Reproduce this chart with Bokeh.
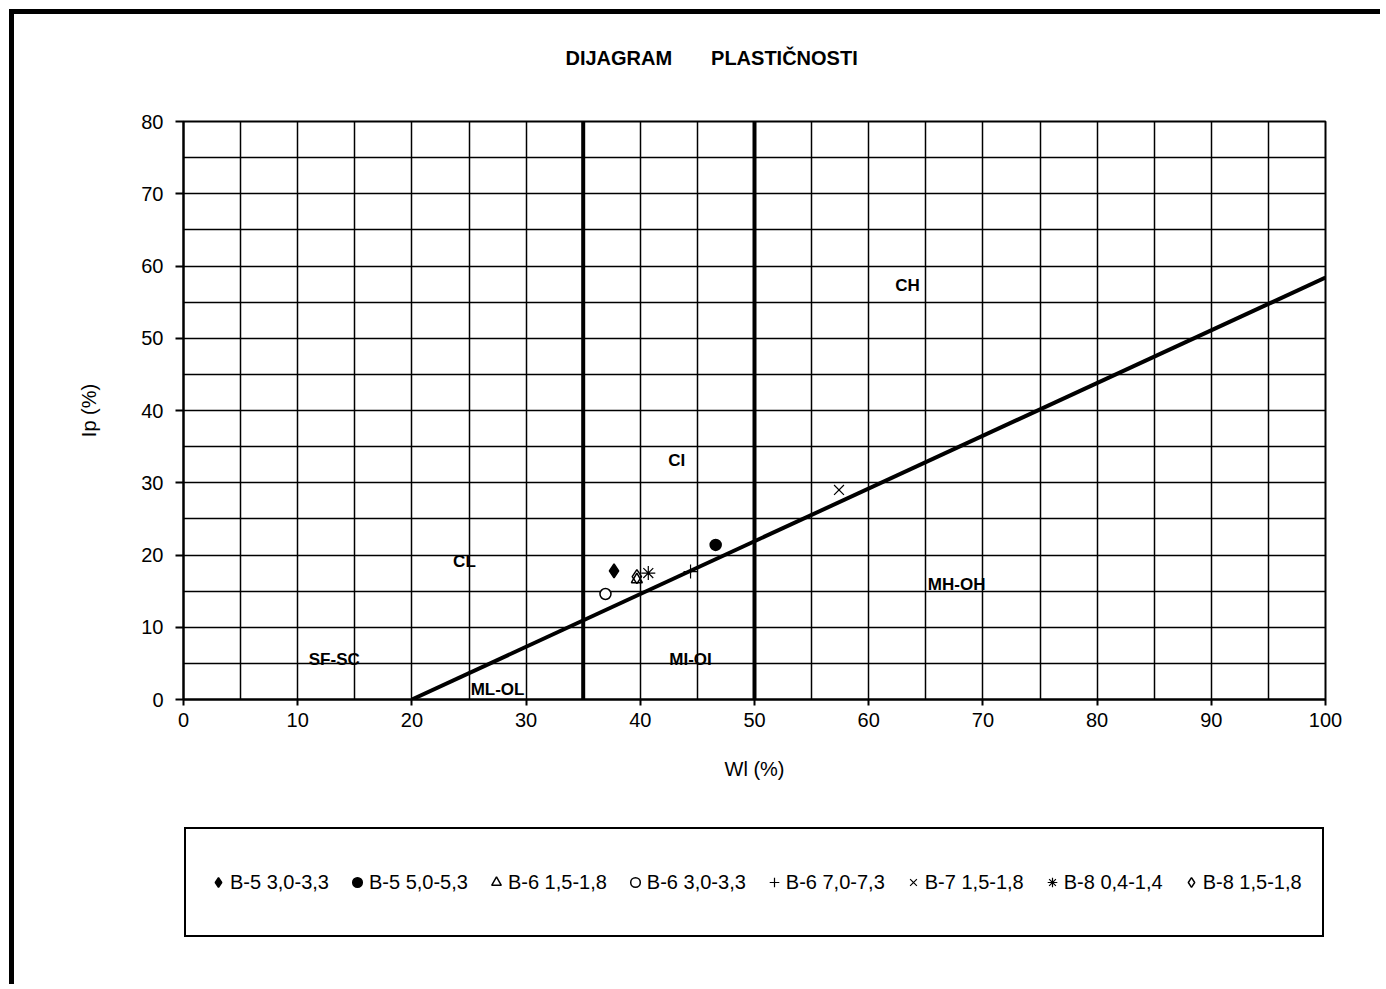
import numpy as np
from bokeh.plotting import figure
from bokeh.layouts import column
from bokeh.models import (SingleIntervalTicker, Legend, LegendItem, Range1d, Label)
from bokeh.core.properties import value
from bokeh.embed import file_html
from bokeh.resources import INLINE

FONT = "Liberation Sans"

# ---------------- data ----------------
sample_names = ["B-5 3,0-3,3", "B-5 5,0-5,3", "B-6 1,5-1,8", "B-6 3,0-3,3",
                "B-6 7,0-7,3", "B-7 1,5-1,8", "B-8 0,4-1,4", "B-8 1,5-1,8"]
wl_values = [37.7, 46.6, 39.7, 36.95, 44.4, 57.4, 40.7, 39.7]
ip_values = [17.8, 21.4, 16.6, 14.6, 17.7, 29.0, 17.5, 17.0]
marker_types = ["diamond", "circle", "triangle", "circle",
                "cross", "x", "asterisk", "diamond"]
marker_fill = ["black", "black", None, "white", None, None, None, None]
marker_size = [14, 11, 11, 11, 14, 14, 14, 14]
marker_lw = [1.5, 1.5, 1.5, 1.5, 1.2, 1.2, 1.2, 1.5]

a_line_wl = [20, 100]
a_line_ip = [0.0, 58.4]
boundary_wl = [35, 50]
boundary_ip_bottom = [0, 0]
boundary_ip_top = [80, 80]

zone_names = ["CH", "CI", "CL", "MH-OH", "SF-SC", "MI-OI", "ML-OL"]
zone_wl = [63.4, 43.2, 24.6, 67.7, 13.2, 44.4, 27.5]
zone_ip = [57.3, 33.1, 19.1, 15.9, 5.5, 5.5, 1.4]

title_text = "DIJAGRAM" + "\u00a0" * 7 + "PLASTIČNOSTI"
x_label = "Wl (%)"
y_label = "Ip (%)"

W = 1366
FRAME_W = 1142   # width of the aligned plot frames (pixels)

# ---------------- title strip ----------------
TH = 80
p0 = figure(width=W, height=TH, output_backend="svg", toolbar_location=None,
            x_range=Range1d(0, FRAME_W), y_range=Range1d(0, TH),
            x_axis_type=None, y_axis_type=None,
            min_border_left=169, min_border_right=55, min_border_top=0, min_border_bottom=0,
            background_fill_color="white", border_fill_color="white")
p0.outline_line_color = None
p0.grid.visible = False
p0.add_layout(Label(x=382, y=37, text=title_text, text_font=FONT,
                    text_font_size="20px", text_font_style="bold",
                    text_color="black", text_align="left", text_baseline="middle"))

# ---------------- main chart ----------------
p = figure(width=W, height=695, output_backend="svg", toolbar_location=None,
           x_range=Range1d(0, 100), y_range=Range1d(0, 80),
           min_border_left=169, min_border_right=55,
           min_border_top=27, min_border_bottom=90,
           background_fill_color="white", border_fill_color="white")
p.outline_line_color = "black"
p.outline_line_width = 2

p.xgrid.ticker = SingleIntervalTicker(interval=5, num_minor_ticks=0)
p.ygrid.ticker = SingleIntervalTicker(interval=5, num_minor_ticks=0)
for g in (p.xgrid, p.ygrid):
    g.grid_line_color = "black"
    g.grid_line_width = 1.5
    g.grid_line_alpha = 1.0

p.xaxis.ticker = SingleIntervalTicker(interval=10, num_minor_ticks=0)
p.yaxis.ticker = SingleIntervalTicker(interval=10, num_minor_ticks=0)
for ax in (p.xaxis, p.yaxis):
    ax.axis_line_color = "black"
    ax.axis_line_width = 2
    ax.major_tick_line_color = "black"
    ax.major_tick_line_width = 2
    ax.major_tick_in = 0
    ax.minor_tick_line_color = None
    ax.major_label_text_font = FONT
    ax.major_label_text_font_size = "20px"
    ax.major_label_text_color = "black"
    ax.axis_label_text_font = FONT
    ax.axis_label_text_font_size = "20px"
    ax.axis_label_text_font_style = "normal"
    ax.axis_label_text_color = "black"
p.xaxis.major_tick_out = 6
p.xaxis.major_label_standoff = 7
p.xaxis.axis_label = x_label
p.xaxis.axis_label_standoff = 28
p.yaxis.major_tick_out = 8
p.yaxis.major_label_standoff = 12
p.yaxis.axis_label = y_label
p.yaxis.axis_label_standoff = 38

p.segment(x0=boundary_wl, y0=boundary_ip_bottom, x1=boundary_wl, y1=boundary_ip_top,
          line_color="black", line_width=4)
p.line(x=a_line_wl, y=a_line_ip, line_color="black", line_width=4)

p.text(x=zone_wl, y=zone_ip, text=zone_names, text_font=value(FONT),
       text_font_size="17px", text_font_style="bold", text_color="black",
       text_align="center", text_baseline="middle")

for name, wl, ip, mk, fc, sz, lw in zip(sample_names, wl_values, ip_values,
                                        marker_types, marker_fill, marker_size, marker_lw):
    p.scatter(x=[wl], y=[ip], marker=mk, size=sz, line_color="black",
              line_width=lw, fill_color=fc)

# ---------------- legend strip ----------------
LH = 195
p2 = figure(width=W, height=LH, output_backend="svg", toolbar_location=None,
            x_range=Range1d(0, FRAME_W), y_range=Range1d(0, LH),
            x_axis_type=None, y_axis_type=None,
            min_border_left=169, min_border_right=55, min_border_top=0, min_border_bottom=0,
            background_fill_color="white", border_fill_color="white")
p2.outline_line_color = None
p2.grid.visible = False

items = []
for name, wl, ip, mk, fc, lw in zip(sample_names, wl_values, ip_values,
                                    marker_types, marker_fill, marker_lw):
    # legend proxies (hidden; the visible points are drawn in the main chart)
    r = p2.scatter(x=[wl], y=[ip], marker=mk, size=10, line_color="black",
                   line_width=lw, fill_color=fc, visible=False)
    items.append(LegendItem(label=name, renderers=[r]))

legend = Legend(items=items, orientation="horizontal", location=(1, 47),
                nrows=1,
                glyph_width=24, glyph_height=66, label_height=66,
                label_standoff=0, spacing=16, padding=20, margin=0,
                border_line_color="black", border_line_width=2,
                border_line_alpha=1.0,
                background_fill_color="white", background_fill_alpha=1.0,
                inactive_fill_alpha=0.0,
                label_text_font=FONT, label_text_font_size="20px",
                label_text_color="black")
p2.add_layout(legend, "center")

layout = column(p0, p, p2, spacing=0)
layout.styles = {"border-left": "5px solid black", "border-top": "5px solid black",
                 "margin-left": "9px", "margin-top": "9px"}

open("out.html", "w").write(file_html(layout, INLINE))
